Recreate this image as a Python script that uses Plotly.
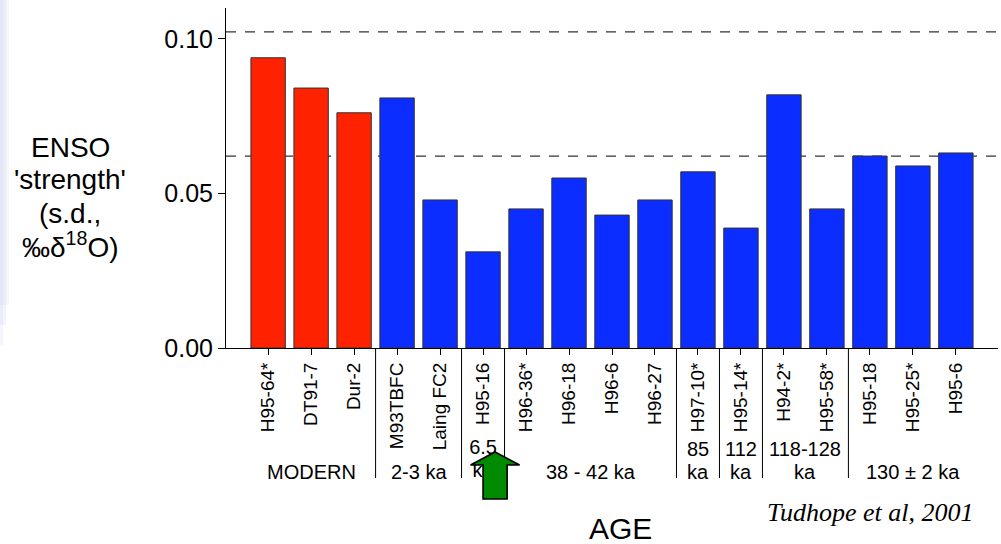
import plotly.graph_objects as go

# ---------------- data ----------------
samples = ["H95-64*", "DT91-7", "Dur-2", "M93TBFC", "Laing FC2", "H95-16",
           "H96-36*", "H96-18", "H96-6", "H96-27", "H97-10*", "H95-14*",
           "H94-2*", "H95-58*", "H95-18", "H95-25*", "H95-6"]
strength = [0.0939, 0.0841, 0.0761, 0.0809, 0.0479, 0.0311,
            0.0450, 0.0550, 0.0430, 0.0479, 0.0570, 0.0388,
            0.0819, 0.0450, 0.0621, 0.0589, 0.0631]
is_modern = [True, True, True] + [False] * 14
reference_levels = [0.1023, 0.0621]

group_top = ["", "", "6.5", "", "85", "112", "118-128", ""]
group_bottom = ["MODERN", "2-3 ka", "ka", "38 - 42 ka", "ka", "ka", "ka", "130 ± 2 ka"]
group_first = [0, 3, 5, 6, 10, 11, 12, 14]
group_last = [2, 4, 5, 9, 10, 11, 13, 16]
arrow_group = 2  # the 6.5 ka group is marked by the green arrow

y_label_lines = ["ENSO", "'strength'", "(s.d.,", "‰δ<sup>18</sup>O)"]

# ---------------- layout helpers ----------------
W, H = 1001, 544
PLOT_L, PLOT_R, PLOT_T, PLOT_B = 226, 998, 8, 348   # plot area in page pixels
Y_MAX = 0.110
X_RANGE = [-0.98, 16.98]
RED, BLUE = "#ff2200", "#0b2dff"
FONT = "Liberation Sans, Arial, sans-serif"


def px(p):  # page column -> paper x
    return p / W


def py(p):  # page row -> paper y
    return 1 - p / H


fig = go.Figure()
fig.add_trace(go.Bar(
    x=list(range(len(samples))), y=strength, width=0.8,
    marker=dict(color=[RED if m else BLUE for m in is_modern],
                line=dict(color="#333333", width=1)),
    hoverinfo="skip", showlegend=False))

# the group label under the arrow is drawn as trace text (so the arrow can cover it)
arrow_x = (group_first[arrow_group] + group_last[arrow_group]) / 2
fig.add_trace(go.Scatter(
    x=[arrow_x, arrow_x], y=[449, 472], xaxis="x2", yaxis="y2",
    text=[group_top[arrow_group], group_bottom[arrow_group]],
    mode="text", textposition="middle center",
    textfont=dict(family=FONT, size=20, color="black"),
    hoverinfo="skip", showlegend=False))

shapes = []
# soft shaded strip at the left edge (fading to the right and downward)
for wpx, bot in ((3, 345), (6, 325), (9, 305)):
    shapes.append(dict(type="rect", xref="paper", yref="paper",
                       x0=0, x1=px(wpx), y0=py(bot), y1=1,
                       fillcolor="#d4d8f4", opacity=0.28, line=dict(width=0), layer="below"))

for lvl in reference_levels:
    shapes.append(dict(type="line", xref="x domain", yref="y", x0=0, x1=1, y0=lvl, y1=lvl,
                       line=dict(color="#333333", width=1.2, dash="10px,9px"), layer="below"))

for g in range(len(group_first) - 1):
    xb = group_last[g] + 0.5
    shapes.append(dict(type="line", xref="x", yref="y2", x0=xb, x1=xb,
                       y0=PLOT_B, y1=478, line=dict(color="black", width=1)))

# green arrow
ac = arrow_x + 0.28
tip, base, bottom = 452, 465, 499
hw, sw = 0.57, 0.28
path = (f"M{ac},{tip} L{ac + hw},{base} L{ac + sw},{base} L{ac + sw},{bottom} "
        f"L{ac - sw},{bottom} L{ac - sw},{base} L{ac - hw},{base} Z")
shapes.append(dict(type="path", xref="x2", yref="y2", path=path,
                   fillcolor="#008a00", line=dict(color="black", width=1.6), layer="above"))

annotations = []
for g in range(len(group_first)):
    if g == arrow_group:
        continue
    xc = (group_first[g] + group_last[g]) / 2
    if group_top[g]:
        annotations.append(dict(x=xc, y=449, xref="x", yref="y2", text=group_top[g],
                                showarrow=False, yanchor="middle", xanchor="center",
                                font=dict(family=FONT, size=20, color="black")))
    annotations.append(dict(x=xc, y=472, xref="x", yref="y2", text=group_bottom[g],
                            showarrow=False, yanchor="middle", xanchor="center",
                            font=dict(family=FONT, size=20, color="black")))

for line, ypix in zip(y_label_lines, [148, 180, 213, 245]):
    annotations.append(dict(x=px(70), y=py(ypix), xref="paper", yref="paper", text=line,
                            showarrow=False, yanchor="middle", xanchor="center",
                            font=dict(family=FONT, size=28, color="black")))

annotations.append(dict(x=px(620), y=py(528), xref="paper", yref="paper", text="AGE",
                        showarrow=False, yanchor="middle", xanchor="center",
                        font=dict(family=FONT, size=30, color="black")))
annotations.append(dict(x=px(870), y=py(512), xref="paper", yref="paper",
                        text="<i>Tudhope et al, 2001</i>", showarrow=False,
                        yanchor="middle", xanchor="center",
                        font=dict(family="Liberation Serif, Times New Roman, serif", size=26,
                                  color="black")))

fig.update_layout(
    width=W, height=H, margin=dict(l=0, r=0, t=0, b=0, pad=0),
    paper_bgcolor="white", plot_bgcolor="white",
    shapes=shapes, annotations=annotations, bargap=0.2,
    xaxis=dict(domain=[px(PLOT_L), px(PLOT_R)], range=X_RANGE, tickmode="array",
               tickvals=list(range(len(samples))), ticktext=samples,
               tickangle=-90, ticks="outside", ticklen=6, tickcolor="black",
               showline=True, linecolor="black", linewidth=1, automargin=False,
               showgrid=False, zeroline=False, anchor="y",
               tickfont=dict(family=FONT, size=19, color="black")),
    yaxis=dict(domain=[py(PLOT_B), py(PLOT_T)], range=[0, Y_MAX],
               tickvals=[0, 0.05, 0.10], tickformat=".2f",
               ticks="outside", ticklen=7, tickcolor="black", automargin=False,
               showline=True, linecolor="black", linewidth=1,
               showgrid=False, zeroline=False, anchor="x",
               tickfont=dict(family=FONT, size=25, color="black")),
    xaxis2=dict(domain=[px(PLOT_L), px(PLOT_R)], range=X_RANGE, visible=False,
                anchor="y2", automargin=False),
    yaxis2=dict(domain=[0, py(PLOT_B)], range=[H, PLOT_B], visible=False,
                anchor="x2", automargin=False),
)

fig.write_html("out.html", config={"displayModeBar": False},
               post_script="document.body.style.margin='0';")
